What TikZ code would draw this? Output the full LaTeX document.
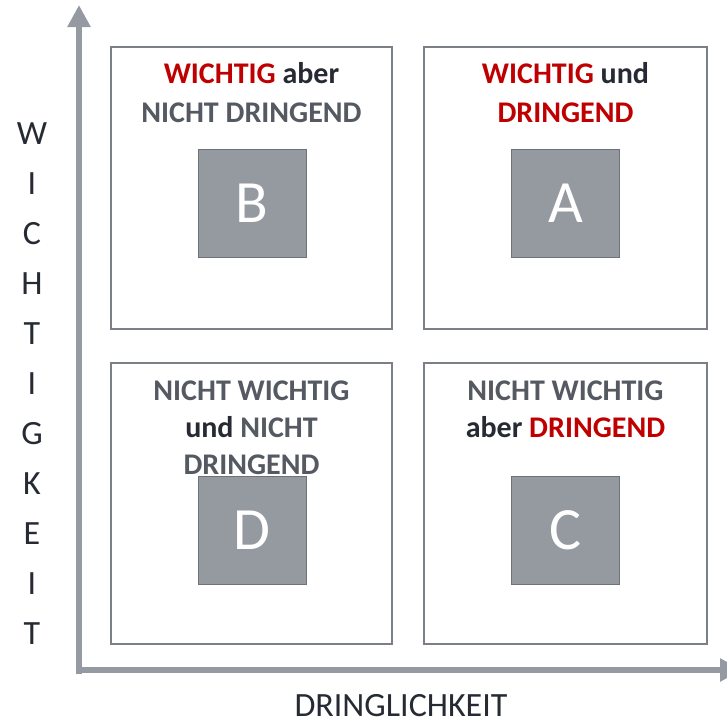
\documentclass[tikz,border=0pt]{standalone}
\usepackage{fontspec}
\setmainfont{Carlito}
\usetikzlibrary{arrows.meta}
\definecolor{axisgray}{HTML}{959AA2}
\definecolor{boxline}{HTML}{7B7F86}
\definecolor{sqfill}{HTML}{959AA1}
\definecolor{sqline}{HTML}{6E737A}
\definecolor{redtxt}{HTML}{C00000}
\definecolor{darktxt}{HTML}{262A33}
\definecolor{graytxt}{HTML}{545962}
\tikzset{
  quad/.style={draw=boxline, line width=1.5pt, fill=white},
  letterbox/.style={draw=sqline, line width=1pt, fill=sqfill, minimum size=108pt, inner sep=0pt,
    text=white, font=\fontsize{60}{60}\selectfont},
  title/.style={anchor=base, inner sep=0pt, font=\fontsize{30}{36}\selectfont\bfseries, text=graytxt},
  axislabel/.style={anchor=base, inner sep=0pt, font=\fontsize{34}{34}\selectfont, text=darktxt},
  axisarrow/.style={draw=axisgray, line width=6pt, -{Triangle[width=22pt,length=22pt]}}
}
\begin{document}
\begin{tikzpicture}[x=1pt,y=-1pt]
\useasboundingbox (0,0) rectangle (727,723);
% axes
\coordinate (oy) at (79,674);
\coordinate (ytip) at (79,5);
\coordinate (ox) at (76,670);
\coordinate (xtip) at (742,670);
\draw[axisarrow] (oy) -- (ytip);
\draw[axisarrow] (ox) -- (xtip);
% quadrants
\draw[quad] (111,47) rectangle (392,329);
\draw[quad] (424,47) rectangle (707,329);
\draw[quad] (111,363) rectangle (392,644);
\draw[quad] (424,363) rectangle (707,644);
% letter squares
\node[letterbox] (B) at (252,203) {B};
\node[letterbox] (A) at (565.5,203) {A};
\node[letterbox] (D) at (252,530.5) {D};
\node[letterbox] (C) at (565.5,530.5) {C};
% titles
\node[title] (b1) at (251.5,83) {\textcolor{redtxt}{WICHTIG} \textcolor{darktxt}{aber}};
\node[title] (b2) at (251.5,122) {NICHT DRINGEND};
\node[title] (a1) at (565.5,83) {\textcolor{redtxt}{WICHTIG} \textcolor{darktxt}{und}};
\node[title] (a2) at (565.5,122) {\textcolor{redtxt}{DRINGEND}};
\node[title] (d1) at (251.5,400) {NICHT WICHTIG};
\node[title] (d2) at (251.5,437) {\textcolor{darktxt}{und} NICHT};
\node[title] (d3) at (251.5,474) {DRINGEND};
\node[title] (c1) at (565.5,400) {NICHT WICHTIG};
\node[title] (c2) at (565.5,437) {\textcolor{darktxt}{aber} \textcolor{redtxt}{DRINGEND}};
% vertical axis label
\foreach \ch [count=\i from 0] in {W,I,C,H,T,I,G,K,E,I,T} {
  \node[axislabel] (v\i) at (32,{144+50*\i}) {\ch};
}
% horizontal axis label
\node[axislabel] (xl) at (401,716) {DRINGLICHKEIT};
\end{tikzpicture}
\end{document}
